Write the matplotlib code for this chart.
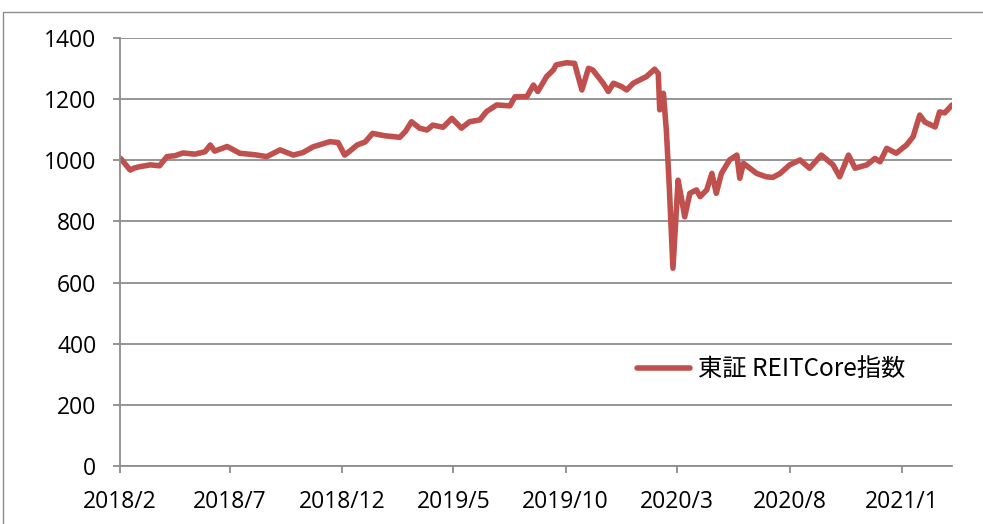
import numpy as np
import pandas as pd
import matplotlib
matplotlib.use("Agg")
import matplotlib.pyplot as plt
import matplotlib.dates as mdates
from matplotlib.patches import Rectangle

# 東証REIT Core指数
dates = [
    "2018-02-01", "2018-02-03", "2018-02-09", "2018-02-15", "2018-02-21", "2018-02-28",
    "2018-03-14", "2018-03-27", "2018-04-06", "2018-04-17", "2018-04-28", "2018-05-14",
    "2018-05-28", "2018-06-04", "2018-06-10", "2018-06-27", "2018-07-05", "2018-07-14",
    "2018-08-04", "2018-08-20", "2018-09-07", "2018-09-25", "2018-10-08", "2018-10-22",
    "2018-11-14", "2018-11-25", "2018-12-04", "2018-12-11", "2018-12-21", "2019-01-01",
    "2019-01-11", "2019-01-28", "2019-02-06", "2019-02-17", "2019-02-25", "2019-03-05",
    "2019-03-16", "2019-03-26", "2019-04-03", "2019-04-17", "2019-04-29", "2019-05-12",
    "2019-05-23", "2019-06-06", "2019-06-15", "2019-06-29", "2019-07-17", "2019-07-24",
    "2019-08-09", "2019-08-18", "2019-08-24", "2019-09-05", "2019-09-14", "2019-09-18",
    "2019-10-02", "2019-10-13", "2019-10-23", "2019-11-01", "2019-11-07", "2019-11-21",
    "2019-11-28", "2019-12-05", "2019-12-16", "2019-12-23", "2020-01-01", "2020-01-19",
    "2020-01-30", "2020-02-04", "2020-02-06", "2020-02-11", "2020-02-15", "2020-02-19",
    "2020-02-24", "2020-03-02", "2020-03-07", "2020-03-11", "2020-03-18", "2020-03-27",
    "2020-04-01", "2020-04-10", "2020-04-17", "2020-04-23", "2020-04-30", "2020-05-11",
    "2020-05-21", "2020-05-25", "2020-05-30", "2020-06-17", "2020-06-30", "2020-07-09",
    "2020-07-19", "2020-08-01", "2020-08-15", "2020-08-28", "2020-09-13", "2020-09-29",
    "2020-10-08", "2020-10-20", "2020-10-29", "2020-11-14", "2020-11-25", "2020-12-02",
    "2020-12-11", "2020-12-24", "2021-01-07", "2021-01-16", "2021-01-25", "2021-02-01",
    "2021-02-15", "2021-02-21", "2021-02-28", "2021-03-10",
]
values = [
    1007, 1003, 985, 968, 975, 979,
    985, 982, 1012, 1015, 1024, 1020,
    1028, 1050, 1030, 1045, 1035, 1023,
    1018, 1012, 1034, 1017, 1025, 1044,
    1061, 1058, 1017, 1030, 1050, 1060,
    1088, 1080, 1078, 1075, 1095, 1126,
    1105, 1099, 1115, 1108, 1137, 1105,
    1126, 1132, 1159, 1181, 1178, 1208,
    1208, 1246, 1225, 1274, 1295, 1312,
    1319, 1317, 1230, 1301, 1295, 1252,
    1225, 1252, 1241, 1230, 1252, 1274,
    1298, 1284, 1165, 1219, 1099, 914,
    647, 935, 870, 815, 892, 903,
    881, 903, 957, 892, 957, 1001,
    1017, 941, 990, 957, 946, 944,
    957, 985, 1001, 974, 1017, 985,
    946, 1017, 974, 985, 1006, 995,
    1039, 1023, 1050, 1077, 1148, 1125,
    1109, 1158, 1155, 1181,
]
tick_labels = ["2018/2", "2018/7", "2018/12", "2019/5", "2019/10", "2020/3", "2020/8", "2021/1"]
series_name = "東証 REITCore指数"

x = pd.to_datetime(dates)
ticks = pd.to_datetime([t.replace("/", "-") + "-01" for t in tick_labels])

plt.rcParams["font.family"] = ["Open Sans", "DejaVu Sans"]

fig = plt.figure(figsize=(9.83, 5.24), dpi=100)
ax = fig.add_axes([0.122, 0.1107, 0.8465, 0.8168])

# outer chart frame (cut off at right and bottom)
fig.patches.append(Rectangle((0.003, -0.1), 1.2, 1.077, transform=fig.transFigure,
                             fill=False, edgecolor="#8c8c8c", lw=1.0))

ax.plot(x, values, color="#C0504D", lw=4, solid_joinstyle="round",
        solid_capstyle="round", label=series_name)

ax.set_ylim(0, 1400)
ax.set_yticks(range(0, 1401, 200))
ax.set_xlim(pd.Timestamp("2018-02-01"), pd.Timestamp("2021-03-10"))
ax.set_xticks(ticks)
ax.set_xticklabels(tick_labels)

ax.grid(axis="y", color="#8c8c8c", lw=1.3)
ax.set_axisbelow(True)
for s in ["top", "right"]:
    ax.spines[s].set_visible(False)
for s in ["left", "bottom"]:
    ax.spines[s].set_color("#8c8c8c")
    ax.spines[s].set_linewidth(1.3)
ax.tick_params(axis="both", colors="#8c8c8c", labelcolor="black", labelsize=16.5,
               length=5, width=1.3, direction="out")
ax.tick_params(axis="y", pad=12)
ax.tick_params(axis="x", pad=12)

leg = ax.legend(loc="center left", bbox_to_anchor=(0.595, 0.226), frameon=False,
                handlelength=2.2, handletextpad=0.3,
                prop={"family": ["Noto Sans CJK JP", "DejaVu Sans"], "size": 17.5})

fig.savefig("out.png", dpi=100)
